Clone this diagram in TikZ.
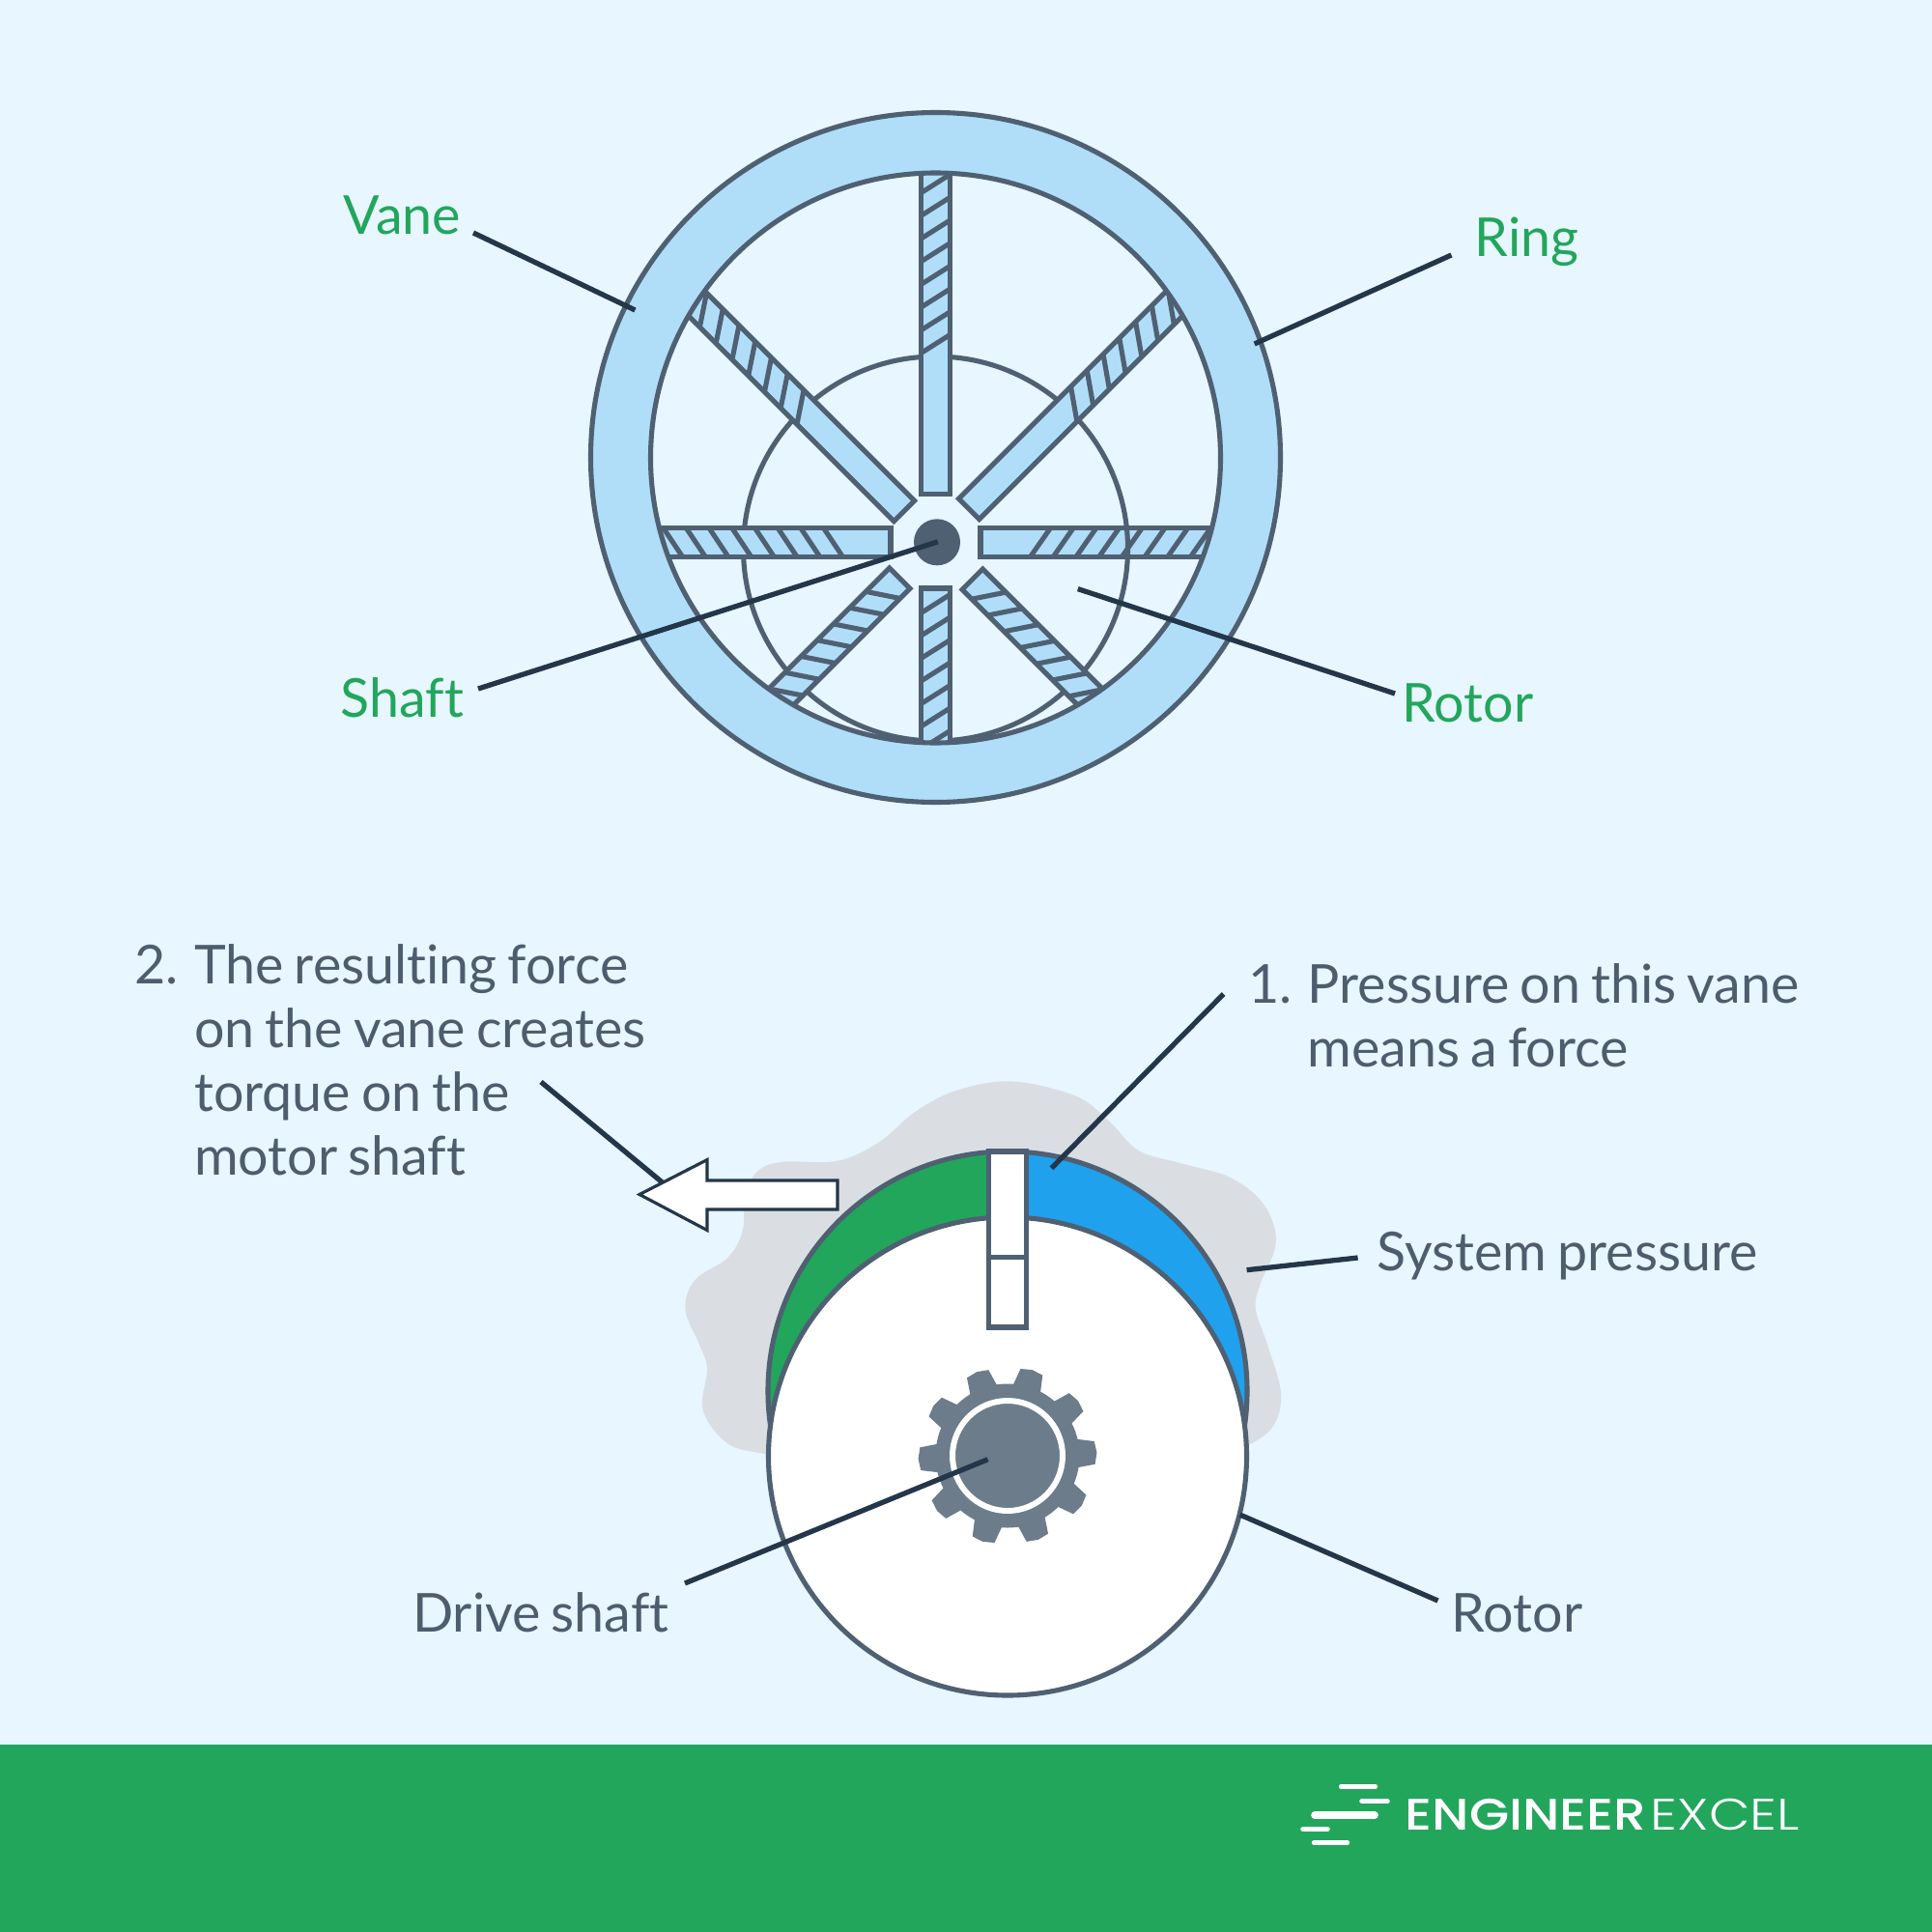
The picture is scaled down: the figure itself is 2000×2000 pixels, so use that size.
\documentclass[tikz,border=0pt]{standalone}
\usepackage{fontspec}
\setmainfont{Lato}[Ligatures=NoCommon,WordSpace=0.78]
\newfontfamily\logobold{Poppins}[UprightFont=* Medium]
\newfontfamily\logolight{Poppins}[UprightFont=* Light]
\definecolor{bgc}{HTML}{E7F6FF}
\definecolor{ringc}{HTML}{B0DEF9}
\definecolor{strokec}{HTML}{4F6072}
\definecolor{leadc}{HTML}{23364A}
\definecolor{greenc}{HTML}{22A65B}
\definecolor{bluec}{HTML}{20A1EE}
\definecolor{blobc}{HTML}{DADEE3}
\definecolor{gearc}{HTML}{6C7C8B}
\definecolor{txtc}{HTML}{4E5D6E}
\tikzset{
  linework/.style={draw=strokec,line width=1.45pt},
  leader/.style={draw=leadc,line width=1.5pt},
  greenlabel/.style={text=greenc,anchor=base west,inner sep=0pt,font=\fontsize{15.8}{18}\selectfont},
  greylabel/.style={text=txtc,anchor=base west,inner sep=0pt,font=\fontsize{15.8}{18}\selectfont},
  logobar/.style={draw=white,line cap=round},
}
\newcommand\vanedraw[6]{%
  \begin{scope}
    \clip (968.5,474) circle (295);
    \begin{scope}[shift={(968.5,561.5)},rotate=#1]
      \fill[ringc] (#2,-15) rectangle (420,15);
      \begin{scope}
        \clip (#2,-15) rectangle (420,15);
        \foreach \k in {0,...,#6} {
          \draw[linework] ({#3+\k*#5},-15) -- ({#3+#4+\k*#5},15);
        }
      \end{scope}
      \draw[linework] (420,-15) -- (#2,-15) -- (#2,15) -- (420,15);
    \end{scope}
  \end{scope}}
\begin{document}
\begin{tikzpicture}[x=0.01cm,y=-0.01cm]
\fill[bgc] (0,0) rectangle (2000,2000);
\useasboundingbox (0,0) rectangle (2000,2000);
\fill[greenc] (0,1806) rectangle (2000,2000);

% --- top wheel ---
\draw[linework] (968.5,568) circle (199);
\vanedraw{90}{50}{196}{19}{23.7}{9}
\vanedraw{45}{49}{213}{-21}{23.7}{6}
\vanedraw{135}{46}{188}{20}{23.7}{6}
\vanedraw{0}{46.5}{119}{-21}{23.7}{9}
\vanedraw{180}{46.5}{96}{20}{23.7}{9}
\vanedraw{225}{52.5}{67}{20}{23.7}{8}
\vanedraw{315}{54}{88}{-20}{23.7}{8}
\vanedraw{270}{47.5}{54}{19}{23.5}{8}
\begin{scope}
  \clip (1150,546) rectangle (1190,577);
  \draw[linework] (968.5,568) circle (199);
\end{scope}
\fill[ringc,even odd rule] (968.5,473.5) circle (357) (968.5,474) circle (295);
\draw[linework] (968.5,473.5) circle (357);
\draw[linework] (968.5,474) circle (295);
\fill[strokec] (970,561.3) circle (24);

% --- bottom diagram ---
\begin{scope}[shift={(680,1100)},x=0.004337cm,y=-0.004337cm]
\fill[blobc] plot[smooth cycle,tension=0.6] coordinates {(850,45) (1000,80) (1080,140) (1150,210) (1250,240) (1370,275) (1450,340) (1478,430) (1440,530) (1430,590) (1460,680) (1490,790) (1470,870) (1400,920) (1300,960) (840,1000) (380,960) (260,935) (170,910) (110,830) (120,730) (100,670) (68,590) (90,520) (170,465) (205,400) (210,320) (240,260) (300,237) (430,235) (530,190) (620,115) (720,65)};
\end{scope}
\begin{scope}
  \clip (1043,1440) circle (248);
  \fill[greenc] (700,1100) rectangle (1043,1600);
  \fill[bluec] (1043,1100) rectangle (1400,1600);
\end{scope}
\draw[linework] (1043,1440) circle (248);
\draw[linework,fill=white] (1043,1507.5) circle (247.5);
\draw[linework,fill=white] (1023.8,1192) rectangle (1062.5,1374);
\draw[linework] (1023.8,1301.6) -- (1062.5,1301.6);

% gear
\fill[gearc] (1043,1507) circle (74.5);
\foreach \a in {2,38,...,326} {
  \fill[gearc] ({1043+72*cos(\a-12)},{1507-72*sin(\a-12)}) -- ({1043+91*cos(\a-7.5)},{1507-91*sin(\a-7.5)}) -- ({1043+92.5*cos(\a)},{1507-92.5*sin(\a)}) -- ({1043+91*cos(\a+7.5)},{1507-91*sin(\a+7.5)}) -- ({1043+72*cos(\a+12)},{1507-72*sin(\a+12)}) -- cycle;
}
\draw[white,line width=1.7pt] (1043,1507) circle (57);

% --- leader ends ---
\coordinate (vaneA) at (490,241);
\coordinate (vaneB) at (657.4,321);
\coordinate (ringA) at (1502.5,264);
\coordinate (ringB) at (1298.6,356);
\coordinate (shaftA) at (495,713);
\coordinate (shaftB) at (970.8,560.8);
\coordinate (rotorA) at (1444,718);
\coordinate (rotorB) at (1115.8,609.6);
\coordinate (forceA) at (560,1120);
\coordinate (forceB) at (688,1226);
\coordinate (pressA) at (1266.6,1029);
\coordinate (pressB) at (1088.5,1209.3);
\coordinate (sysA) at (1405.6,1302);
\coordinate (sysB) at (1290.6,1314.7);
\coordinate (rotBA) at (1488.5,1657);
\coordinate (rotBB) at (1283.6,1568);
\coordinate (driveA) at (709,1639);
\coordinate (driveB) at (1022.6,1510.7);

\draw[leader] (forceA) -- (forceB);
\draw[draw=leadc,line width=0.9pt,fill=white] (662,1236.5) -- (732,1200.6) -- (732,1222) -- (867,1222) -- (867,1252) -- (732,1252) -- (732,1273.5) -- cycle;

\draw[leader] (vaneA) -- (vaneB);
\draw[leader] (ringA) -- (ringB);
\draw[leader] (shaftA) -- (shaftB);
\draw[leader] (rotorA) -- (rotorB);
\draw[leader] (pressA) -- (pressB);
\draw[leader] (sysA) -- (sysB);
\draw[leader] (rotBA) -- (rotBB);
\draw[leader] (driveA) -- (driveB);

% --- labels ---
\node[greenlabel] (lvane) at (355,242) {Vane};
\node[greenlabel] (lring) at (1526,265.5) {Ring};
\node[greenlabel] (lshaft) at (352,742) {Shaft};
\node[greenlabel] (lrotor) at (1451,747) {Rotor};
\node[greylabel] (ltwo) at (139,1018) {2.};
\node[greylabel] (la) at (200.5,1018) {The resulting force};
\node[greylabel] (lb) at (200.5,1084) {on the vane creates};
\node[greylabel] (lc) at (200.5,1150) {torque on the};
\node[greylabel] (ld) at (200.5,1216) {motor shaft};
\node[greylabel] (lone) at (1292,1038) {1.};
\node[greylabel] (le) at (1353,1038) {Pressure on this vane};
\node[greylabel] (lf) at (1353,1104) {means a force};
\node[greylabel] (lsys) at (1425,1315) {System pressure};
\node[greylabel] (ldrive) at (426.5,1689) {Drive shaft};
\node[greylabel] (lrotb) at (1502,1689) {Rotor};

% --- logo ---
\draw[logobar,line width=1.2pt] (1388,1849.5) -- (1424,1849.5);
\draw[logobar,line width=1.6pt] (1410,1864.5) -- (1436,1864.5);
\draw[logobar,line width=2.2pt] (1361,1879) -- (1423,1879);
\draw[logobar,line width=1.6pt] (1349,1893.5) -- (1374,1893.5);
\draw[logobar,line width=1.2pt] (1360,1907.5) -- (1395,1907.5);
\node[text=white,anchor=base west,inner sep=0pt,xscale=1.165,font=\logobold\fontsize{13}{15}\selectfont] (lgA) at (1454,1894) {ENGINEER};
\node[text=white,anchor=base west,inner sep=0pt,xscale=1.21,font=\logolight\fontsize{13}{15}\selectfont] (lgB) at (1708,1894) {EXCEL};
\end{tikzpicture}
\end{document}
